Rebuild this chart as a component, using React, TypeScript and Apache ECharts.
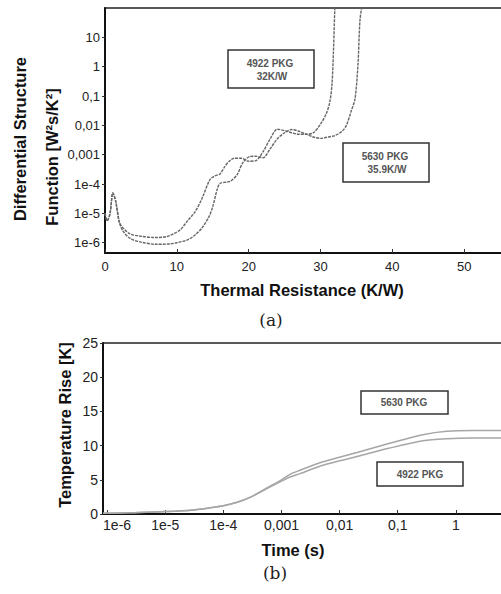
import React, { useEffect, useRef } from "react";
import * as echarts from "echarts";

// ---- Top chart (a): differential structure function ----
const resA_X = [0, 0.3, 0.7, 1.1, 1.5, 2.0, 2.5, 3.5, 5, 7, 8.5, 9.5, 10.5, 11.5, 12.5, 13.5, 14.6, 15.3, 16, 16.7, 17.3, 18, 19, 20, 21, 22, 23, 24, 25, 26, 27, 28, 29, 30, 30.8, 31.3, 31.6, 31.8, 32];
const dsfA = [1e-5, 5.6e-6, 1e-5, 5e-5, 2.5e-5, 5e-6, 3.2e-6, 2e-6, 1.66e-6, 1.5e-6, 1.6e-6, 2e-6, 2.8e-6, 5.6e-6, 1.1e-5, 3.2e-5, 1.4e-4, 1.9e-4, 2.2e-4, 4e-4, 6e-4, 7.6e-4, 7.6e-4, 6e-4, 6.3e-4, 1.26e-3, 3.5e-3, 7.4e-3, 6.6e-3, 5.6e-3, 5e-3, 5e-3, 5.6e-3, 0.011, 0.025, 0.063, 0.25, 3.2, 126];

const resB_X = [0, 0.3, 0.7, 1.1, 1.5, 2.0, 2.5, 3.5, 5, 7, 9, 10, 11.5, 12.5, 13.5, 14.5, 15, 15.6, 16, 17, 17.5, 18.4, 19.2, 20.2, 21, 22, 23, 24, 25, 26, 27, 28, 29, 30, 31, 32, 33, 33.6, 34.3, 34.8, 35.2, 35.5, 35.8];
const dsfB = [1e-5, 5.6e-6, 1e-5, 5e-5, 2.5e-5, 5e-6, 2.5e-6, 1.4e-6, 1.05e-6, 8.9e-7, 9.1e-7, 1e-6, 1.26e-6, 1.8e-6, 3.2e-6, 7.9e-6, 1.7e-5, 6.3e-5, 1.05e-4, 1.17e-4, 1.26e-4, 2.1e-4, 5.4e-4, 8.7e-4, 8.9e-4, 7.9e-4, 1.6e-3, 3.5e-3, 5.6e-3, 7.2e-3, 6.3e-3, 5e-3, 4e-3, 3.6e-3, 4e-3, 4.5e-3, 6.3e-3, 0.01, 0.032, 0.079, 1, 40, 126];

const topYExponents = [-6, -5, -4, -3, -2, -1, 0, 1];
const topYLabels = ["1e-6", "1e-5", "1e-4", "0,001", "0,01", "0,1", "1", "10"];

// ---- Bottom chart (b): temperature rise ----
const timeS = [8.5e-7, 1e-6, 3e-6, 1e-5, 3e-5, 1e-4, 2e-4, 3e-4, 5.6e-4, 1e-3, 1.4e-3, 2.1e-3, 5e-3, 0.02, 0.07, 0.27, 0.7, 2, 10];
const rise5630 = [0.1, 0.1, 0.2, 0.35, 0.6, 1.2, 1.9, 2.5, 3.8, 5.0, 5.8, 6.4, 7.6, 9.0, 10.3, 11.6, 12.1, 12.2, 12.2];
const rise4922 = [0.1, 0.1, 0.2, 0.35, 0.6, 1.2, 1.9, 2.5, 3.7, 4.8, 5.4, 5.9, 7.1, 8.4, 9.6, 10.7, 11.0, 11.1, 11.1];

const botXExponents = [-6, -5, -4, -3, -2, -1, 0];
const botXLabels = ["1e-6", "1e-5", "1e-4", "0,001", "0,01", "0,1", "1"];

const SANS = "'Liberation Sans', Arial, sans-serif";
const SERIF = "'DejaVu Serif', 'Liberation Serif', serif";

function logFormatter(exps: number[], labels: string[], firstRich?: string) {
  return (v: number) => {
    const l = Math.log10(v);
    const r = Math.round(l);
    if (Math.abs(l - r) > 0.01) return "";
    const i = exps.indexOf(r);
    if (i < 0) return "";
    if (i === 0 && firstRich) return `{${firstRich}|${labels[i]}}`;
    return labels[i];
  };
}

function box(x: number, y: number, w: number, h: number) {
  return {
    type: "rect",
    shape: { x, y, width: w, height: h },
    style: { fill: "#fff", stroke: "#333", lineWidth: 1.5 },
    z: 10,
  };
}
function boxText(x: number, y: number, text: string) {
  return {
    type: "text",
    x,
    y,
    style: {
      text,
      font: `bold 10px ${SANS}`,
      fill: "#555",
      align: "center",
      verticalAlign: "middle",
    },
    z: 11,
  };
}

export default function App() {
  const ref = useRef<HTMLDivElement>(null);
  useEffect(() => {
    if (!ref.current) return;
    const chart = echarts.init(ref.current, null, { renderer: "svg" });
    const axisText = { color: "#222", fontSize: 13, fontFamily: SANS };
    const titleFont = `bold 16.5px ${SANS}`;
    const option: any = {
      animation: false,
      backgroundColor: "#fff",
      grid: [
        {
          left: 105, top: 8, width: 431, height: 245,
          show: true, borderColor: "#222", borderWidth: 1.5,
          outerBoundsMode: "none", containLabel: false,
        },
        {
          left: 103, top: 343, width: 411, height: 171,
          show: true, borderColor: "#222", borderWidth: 1.5,
          outerBoundsMode: "none", containLabel: false,
        },
      ],
      xAxis: [
        {
          type: "value", gridIndex: 0, min: 0, max: 60, interval: 10,
          axisLine: { show: true, lineStyle: { color: "#111", width: 2 } },
          axisTick: { show: true, inside: true, length: 4, lineStyle: { color: "#333" } },
          axisLabel: { ...axisText, margin: 7, hideOverlap: false, showMaxLabel: false },
          splitLine: { show: false },
        },
        {
          type: "log", logBase: 10, gridIndex: 1, min: Math.pow(10, -6.07), max: 10,
          axisLine: { show: true, lineStyle: { color: "#111", width: 2 } },
          axisTick: { show: true, inside: true, length: 4, lineStyle: { color: "#333" } },
          axisLabel: {
            ...axisText, fontSize: 14, margin: 4, hideOverlap: false, showMinLabel: false, showMaxLabel: false,
            formatter: logFormatter(botXExponents, botXLabels, "first"),
            rich: { first: { fontSize: 14, fontFamily: SANS, color: "#222", padding: [0, 0, 0, 20] } },
          },
          minorTick: { show: false },
          splitLine: { show: false },
        },
      ],
      yAxis: [
        {
          type: "log", logBase: 10, gridIndex: 0, min: Math.pow(10, -6.35), max: 100,
          axisLine: { show: true, lineStyle: { color: "#111", width: 2 } },
          axisTick: { show: true, inside: false, length: 3, lineStyle: { color: "#333" } },
          axisLabel: {
            ...axisText, margin: 5, hideOverlap: false, showMinLabel: false, showMaxLabel: false,
            formatter: logFormatter(topYExponents, topYLabels),
          },
          minorTick: { show: false },
          splitLine: { show: false },
        },
        {
          type: "value", gridIndex: 1, min: 0, max: 25, interval: 5,
          axisLine: { show: true, lineStyle: { color: "#111", width: 2 } },
          axisTick: { show: true, inside: false, length: 3, lineStyle: { color: "#333" } },
          axisLabel: { ...axisText, fontSize: 14, margin: 5, hideOverlap: false },
          splitLine: { show: false },
        },
      ],
      series: [
        {
          name: "4922 PKG", type: "line", xAxisIndex: 0, yAxisIndex: 0,
          data: resA_X.map((x, i) => [x, dsfA[i]]),
          smooth: 0.3, showSymbol: false, clip: true,
          lineStyle: { color: "#666", width: 1.4, type: [3, 1] },
        },
        {
          name: "5630 PKG", type: "line", xAxisIndex: 0, yAxisIndex: 0,
          data: resB_X.map((x, i) => [x, dsfB[i]]),
          smooth: 0.3, showSymbol: false, clip: true,
          lineStyle: { color: "#666", width: 1.4, type: [3, 1] },
        },
        {
          name: "5630 PKG (b)", type: "line", xAxisIndex: 1, yAxisIndex: 1,
          data: timeS.map((t, i) => [t, rise5630[i]]),
          smooth: 0.3, showSymbol: false, clip: true,
          lineStyle: { color: "#a6a6a6", width: 1.5 },
        },
        {
          name: "4922 PKG (b)", type: "line", xAxisIndex: 1, yAxisIndex: 1,
          data: timeS.map((t, i) => [t, rise4922[i]]),
          smooth: 0.3, showSymbol: false, clip: true,
          lineStyle: { color: "#a6a6a6", width: 1.5 },
        },
      ],
      graphic: [
        // axis titles
        {
          type: "text", x: 20, y: 139, rotation: Math.PI / 2,
          style: { text: "Differential Structure", font: titleFont, fill: "#111", align: "center", verticalAlign: "middle" },
        },
        {
          type: "text", x: 52, y: 157, rotation: Math.PI / 2,
          style: { text: "Function [W²s/K²]", font: titleFont, fill: "#111", align: "center", verticalAlign: "middle" },
        },
        {
          type: "text", x: 302, y: 290,
          style: { text: "Thermal Resistance (K/W)", font: titleFont, fill: "#111", align: "center", verticalAlign: "middle" },
        },
        {
          type: "text", x: 65, y: 425, rotation: Math.PI / 2,
          style: { text: "Temperature Rise [K]", font: titleFont, fill: "#111", align: "center", verticalAlign: "middle" },
        },
        {
          type: "text", x: 293, y: 550,
          style: { text: "Time (s)", font: titleFont, fill: "#111", align: "center", verticalAlign: "middle" },
        },
        {
          type: "text", x: 271, y: 320,
          style: { text: "(a)", font: `17px ${SERIF}`, fill: "#222", align: "center", verticalAlign: "middle" },
        },
        {
          type: "text", x: 275, y: 573,
          style: { text: "(b)", font: `17px ${SERIF}`, fill: "#222", align: "center", verticalAlign: "middle" },
        },
        // annotation boxes, chart (a)
        box(228, 50, 86, 38),
        boxText(270, 63, "4922 PKG"),
        boxText(272, 76, "32K/W"),
        box(343, 143, 86, 39),
        boxText(385, 156, "5630 PKG"),
        boxText(387, 169, "35.9K/W"),
        // annotation boxes, chart (b)
        box(361, 391, 87, 23),
        boxText(404, 402.5, "5630 PKG"),
        box(377, 462, 86, 24),
        boxText(420, 474, "4922 PKG"),
      ],
    };
    chart.setOption(option);
    return () => chart.dispose();
  }, []);
  return (
    <div
      ref={ref}
      style={{ position: "absolute", left: 0, top: 0, width: 501, height: 594, background: "#fff" }}
    />
  );
}
